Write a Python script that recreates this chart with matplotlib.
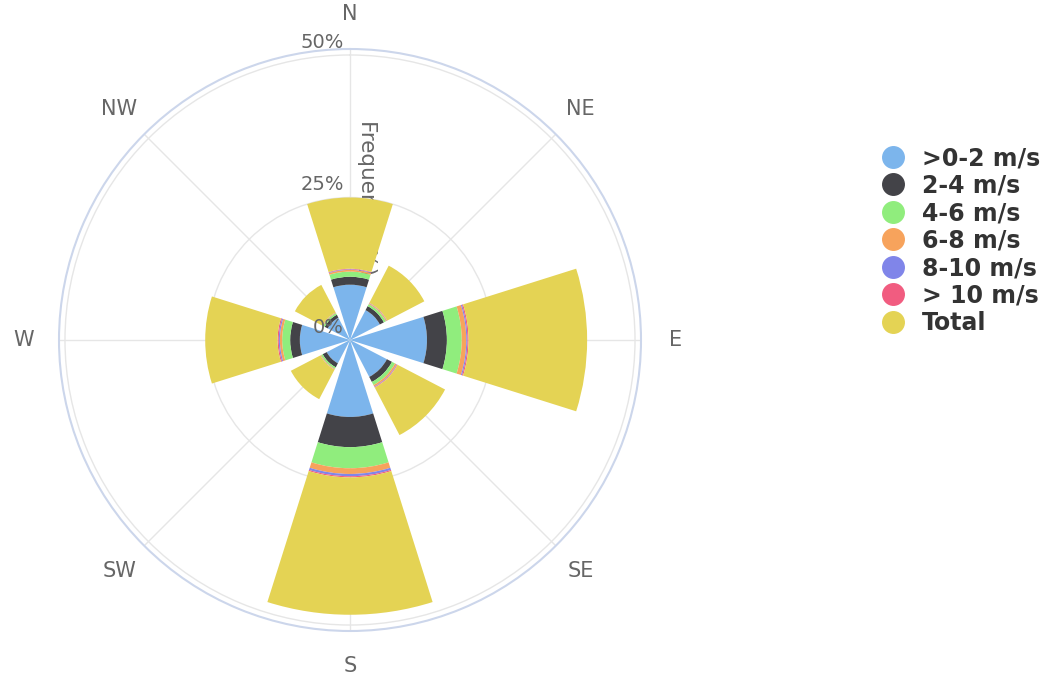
import numpy as np
import matplotlib.pyplot as plt
from matplotlib.lines import Line2D
from matplotlib.transforms import offset_copy

directions = ["N", "NE", "E", "SE", "S", "SW", "W", "NW"]
angles_deg = [0, 45, 90, 135, 180, 225, 270, 315]

speed_labels = [">0-2 m/s", "2-4 m/s", "4-6 m/s", "6-8 m/s", "8-10 m/s", "> 10 m/s", "Total"]
colors = ["#7cb5ec", "#434348", "#90ed7d", "#f7a35c", "#8085e9", "#f15c80", "#e4d354"]

# frequency (%) per direction, N -> NW
s_0_2 = [9.7, 5.9, 13.5, 7.3, 13.5, 4.6, 8.8, 4.4]
s_2_4 = [1.4, 0.8, 3.5, 1.0, 5.3, 0.8, 1.7, 0.6]
s_4_6 = [0.9, 0.4, 2.6, 0.6, 3.7, 0.3, 1.4, 0.3]
s_6_8 = [0.3, 0.15, 0.8, 0.3, 1.0, 0.1, 0.4, 0.1]
s_8_10 = [0.1, 0.05, 0.2, 0.1, 0.4, 0.03, 0.2, 0.03]
s_10p = [0.1, 0.05, 0.2, 0.1, 0.2, 0.02, 0.2, 0.02]
total = [12.5, 7.35, 20.8, 9.4, 24.1, 5.85, 12.7, 5.45]

series = [s_0_2, s_2_4, s_4_6, s_6_8, s_8_10, s_10p, total]

fig = plt.figure(figsize=(10.5, 6.77), dpi=100)
ax = fig.add_axes([59 / 1050, 46 / 677, 582 / 1050, 582 / 677], projection="polar")
ax.set_theta_zero_location("N")
ax.set_theta_direction(-1)

theta = np.deg2rad(angles_deg)
width = np.deg2rad(35)

bottom = np.zeros(len(directions))
for vals, c in zip(series, colors):
    vals = np.array(vals)
    ax.bar(theta, vals, width=width, bottom=bottom, color=c, linewidth=0, zorder=2)
    bottom += vals

ax.set_ylim(0, 51.05)
ax.set_yticks([25, 50])
ax.set_yticklabels([])
ax.set_xticks(theta)
ax.set_xticklabels([])
ax.grid(color="#e6e6e6", linewidth=1)
ax.set_axisbelow(True)
ax.spines["polar"].set_color("#ccd6eb")
ax.spines["polar"].set_linewidth(1.5)

# direction labels
for t, lab in zip(theta, directions):
    ax.text(t, 57.2, lab, ha="center", va="center", fontsize=15, color="#666666", clip_on=False)

# radial labels
rtrans = offset_copy(ax.transData, fig=fig, x=-6, y=3, units="dots")
for v in [0, 25, 50]:
    ax.text(0, v, f"{v}%", transform=rtrans, ha="right", va="bottom",
            fontsize=14, color="#666666", zorder=5)

# axis title, mostly hidden behind the N bar
ttrans = offset_copy(ax.transData, fig=fig, x=17, y=0, units="dots")
ax.text(0, 38.6, "Frequency (%)", transform=ttrans, rotation=270, ha="center", va="top",
        fontsize=15.5, color="#666666", zorder=1)

handles = [Line2D([0], [0], marker="o", linestyle="none", markerfacecolor=c,
                  markeredgecolor=c, markersize=15.5) for c in colors]
leg = fig.legend(handles, speed_labels, loc="upper left", bbox_to_anchor=(881 / 1050, 1 - 146 / 677),
                 frameon=False, prop={"weight": "bold", "size": 17}, labelspacing=0.15,
                 handlelength=1.0, handletextpad=0.75, borderpad=0, borderaxespad=0)
for txt in leg.get_texts():
    txt.set_color("#333333")

fig.savefig("out.png", dpi=100)
